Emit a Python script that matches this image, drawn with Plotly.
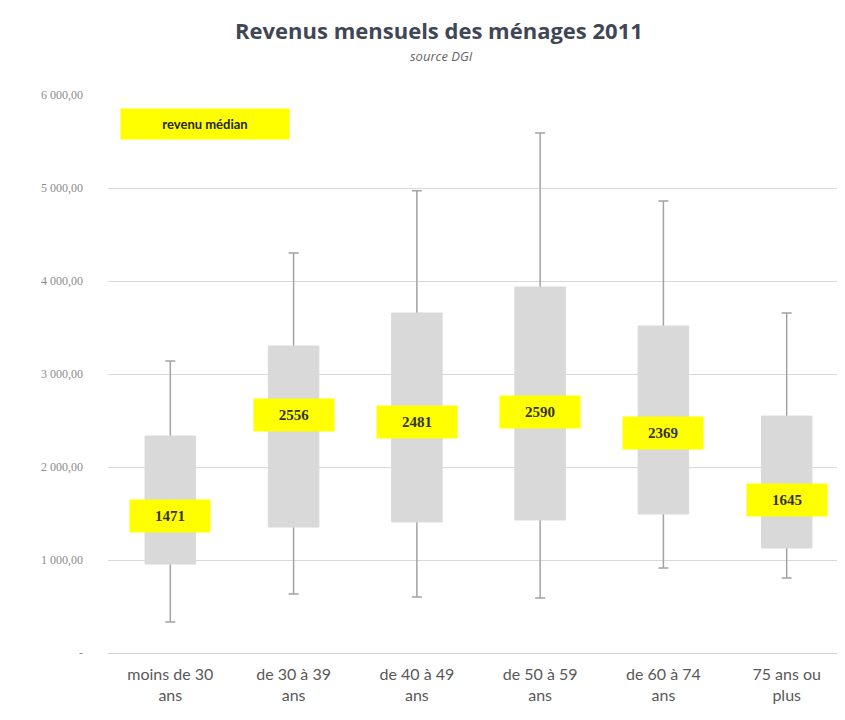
import plotly.graph_objects as go

# Household monthly income by age group (2011, source DGI)
categories = ["moins de 30<br>ans", "de 30 à 39<br>ans", "de 40 à 49<br>ans",
              "de 50 à 59<br>ans", "de 60 à 74<br>ans", "75 ans ou<br>plus"]
whisker_low = [333, 634, 602, 591, 914, 806]
q1 = [957, 1355, 1409, 1430, 1495, 1129]
median = [1471, 2556, 2481, 2590, 2369, 1645]
q3 = [2333, 3301, 3656, 3935, 3516, 2548]
whisker_high = [3140, 4300, 4970, 5591, 4860, 3656]

tick_vals = [0, 1000, 2000, 3000, 4000, 5000, 6000]
tick_text = ["-", "1 000,00", "2 000,00", "3 000,00", "4 000,00", "5 000,00", "6 000,00"]

BOX_FILL = "#d9d9d9"
WHISKER = "#a3a3a3"

fig = go.Figure()

# whiskers min -> max as error bars on an invisible bar (bar layer sits under the boxes)
fig.add_trace(go.Bar(
    x=categories, y=median,
    width=0.41,
    marker=dict(color="rgba(0,0,0,0)", line=dict(width=0)),
    error_y=dict(type="data", symmetric=False,
                 array=[h - m for h, m in zip(whisker_high, median)],
                 arrayminus=[m - l for m, l in zip(median, whisker_low)],
                 color=WHISKER, thickness=1.5, width=5),
    hoverinfo="skip", showlegend=False,
))

# flat grey box Q1..Q3, outline in the fill colour so it looks borderless
fig.add_trace(go.Box(
    x=categories,
    q1=q1, median=median, q3=q3,
    lowerfence=q1, upperfence=q3,
    fillcolor=BOX_FILL,
    line=dict(color=BOX_FILL, width=1),
    whiskerwidth=0,
    width=0.41,
    hoverinfo="skip",
    showlegend=False,
))

# yellow median labels
for cat, med in zip(categories, median):
    fig.add_annotation(
        x=cat, y=med, xref="x", yref="y",
        text=f"<b>{med}</b>",
        showarrow=False,
        bgcolor="#ffff00",
        width=72, height=24, borderpad=4,
        font=dict(family="Liberation Serif", size=15, color="#333333"),
    )

# legend-like tag
fig.add_annotation(
    x=0.016, y=0.977, xref="paper", yref="paper",
    xanchor="left", yanchor="top",
    text="<b>revenu médian</b>",
    showarrow=False,
    bgcolor="#ffff00",
    width=160, height=22, borderpad=4,
    font=dict(family="Lato", size=13, color="#262626"),
)

# subtitle
fig.add_annotation(
    x=0.45, y=1, xref="paper", yref="paper",
    xanchor="center", yanchor="bottom", yshift=28,
    text="<i>source DGI</i>",
    showarrow=False,
    font=dict(family="Open Sans", size=13, color="#666666"),
)

fig.update_layout(
    width=845, height=720,
    margin=dict(l=100, r=4, t=87, b=75),
    paper_bgcolor="white",
    plot_bgcolor="white",
    barmode="overlay",
    boxmode="overlay",
    title=dict(
        text="<b>Revenus mensuels des ménages 2011</b>",
        x=0.51, xanchor="center", y=0.968, yanchor="middle",
        font=dict(family="Open Sans", size=22, color="#3f4756"),
    ),
)

fig.update_xaxes(
    showgrid=False, zeroline=False,
    showline=False, ticks="", ticklabelstandoff=10,
    tickfont=dict(family="Lato", size=16, color="#595959"),
)
fig.update_yaxes(
    range=[0, 6000],
    tickvals=tick_vals, ticktext=tick_text,
    showgrid=True, gridcolor="#d9d9d9", gridwidth=1,
    zeroline=True, zerolinecolor="#cfcfcf", zerolinewidth=1,
    ticks="", ticklabelstandoff=24,
    tickfont=dict(family="Liberation Serif", size=12, color="#8c8c8c"),
)

fig.write_html("out.html")
